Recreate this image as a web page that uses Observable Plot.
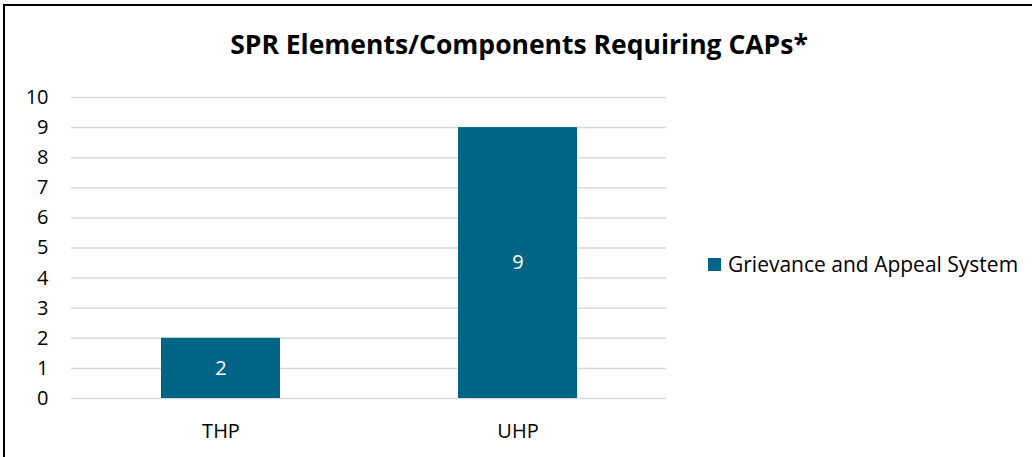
<!DOCTYPE html>
<html>
<head>
<meta charset="utf-8">
<script src="https://cdn.jsdelivr.net/npm/d3@7"></script>
<script src="https://cdn.jsdelivr.net/npm/@observablehq/plot@0.6"></script>
<style>
  html, body { margin: 0; padding: 0; background: #fff; }
  #wrap { position: relative; width: 1032px; height: 457px; overflow: hidden; font-family: "Open Sans", sans-serif; }
  #frame { position: absolute; left: 3px; top: 4px; width: 1100px; height: 500px; border: 2px solid #000; box-sizing: border-box; }
  #title { position: absolute; left: 0; width: 1038px; top: 26px; text-align: center; font-weight: bold; font-size: 26.5px; color: #000; }
  #chart { position: absolute; left: 0; top: 0; }
  #legend { position: absolute; left: 708px; top: 250px; font-size: 21px; color: #000; display: flex; align-items: center; }
  #legend .sw { width: 13px; height: 13px; margin-right: 7px; }
</style>
</head>
<body>
<div id="wrap">
  <div id="frame"></div>
  <div id="title"></div>
  <div id="chart"></div>
  <div id="legend"></div>
</div>
<script>
const chartTitle = "SPR Elements/Components Requiring CAPs*";
const categories = ["THP", "UHP"];
const seriesName = "Grievance and Appeal System";
const values = [2, 9];
const yTicks = [0, 1, 2, 3, 4, 5, 6, 7, 8, 9, 10];
const barColor = "#006486";

const data = categories.map((c, i) => ({category: c, value: values[i]}));

document.getElementById("title").textContent = chartTitle;
const leg = document.getElementById("legend");
leg.innerHTML = `<div class="sw" style="background:${barColor}"></div><span></span>`;
leg.querySelector("span").textContent = seriesName;

const plot = Plot.plot({
  width: 680,
  height: 457,
  marginLeft: 71,
  marginRight: 14,
  marginTop: 97,
  marginBottom: 59,
  style: {fontFamily: "'Open Sans', sans-serif", fontSize: "20px", color: "#000", background: "transparent"},
  x: {domain: categories, paddingInner: 0.6, paddingOuter: 0.3, label: null},
  y: {domain: [0, 10], label: null},
  marks: [
    Plot.gridY(yTicks, {stroke: "#d9d9d9", strokeOpacity: 1, strokeWidth: 1.5}),
    Plot.barY(data, {x: "category", y: "value", fill: barColor}),
    Plot.text(data, {x: "category", y: d => d.value / 2, text: d => String(d.value), fill: "#fff", fontSize: 20}),
    Plot.axisY({ticks: yTicks, tickSize: 0, tickPadding: 23, fontSize: 20, label: null}),
    Plot.axisX({tickSize: 0, tickPadding: 25, fontSize: 20, label: null})
  ]
});
document.getElementById("chart").appendChild(plot);
</script>
</body>
</html>
